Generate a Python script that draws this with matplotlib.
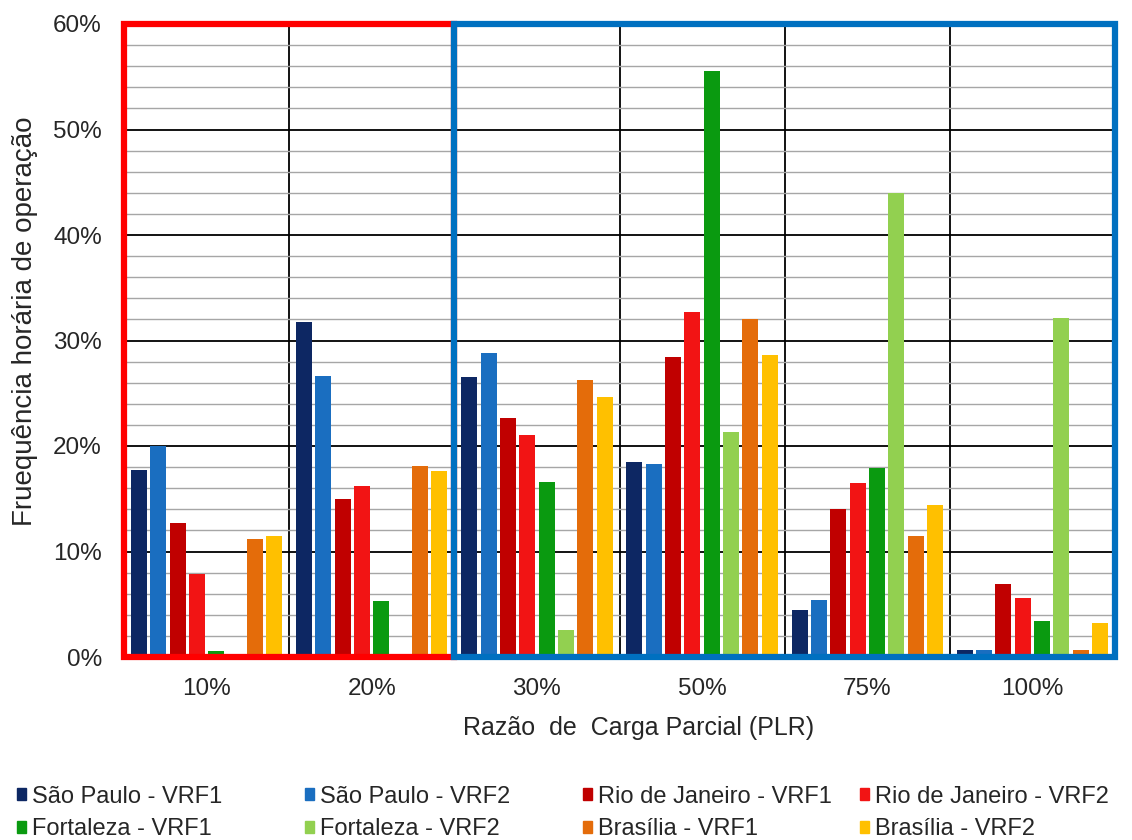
import matplotlib
matplotlib.use("Agg")
import matplotlib.pyplot as plt
import numpy as np
from matplotlib.patches import Patch, Rectangle

plt.rcParams["font.family"] = ["Liberation Sans", "DejaVu Sans"]

groups = ["10%", "20%", "30%", "50%", "75%", "100%"]
series = ["São Paulo - VRF1", "São Paulo - VRF2", "Rio de Janeiro - VRF1", "Rio de Janeiro - VRF2",
          "Fortaleza - VRF1", "Fortaleza - VRF2", "Brasília - VRF1", "Brasília - VRF2"]
sp_vrf1 = [17.7, 31.8, 26.5, 18.5, 4.5, 0.7]
sp_vrf2 = [20.0, 26.6, 28.8, 18.3, 5.4, 0.7]
rj_vrf1 = [12.7, 15.0, 22.7, 28.4, 14.0, 6.9]
rj_vrf2 = [7.9, 16.2, 21.0, 32.7, 16.5, 5.6]
fo_vrf1 = [0.6, 5.3, 16.6, 55.5, 17.9, 3.4]
fo_vrf2 = [0.0, 0.0, 2.6, 21.3, 44.0, 32.1]
br_vrf1 = [11.2, 18.1, 26.3, 32.0, 11.5, 0.7]
br_vrf2 = [11.5, 17.6, 24.6, 28.6, 14.4, 3.2]
values = [sp_vrf1, sp_vrf2, rj_vrf1, rj_vrf2, fo_vrf1, fo_vrf2, br_vrf1, br_vrf2]
colors = ["#0d2763", "#1a6ec0", "#c00000", "#f21414", "#0a9a10", "#92d050", "#e46c0a", "#ffc000"]

fig = plt.figure(figsize=(11.32, 8.4), dpi=100)
ax = fig.add_axes([124 / 1132, 1 - 657 / 840, 991 / 1132, 633 / 840])

x = np.arange(len(groups))
slot = 0.117
for i, (vals, c) in enumerate(zip(values, colors)):
    ax.bar(x + (i - 3.5) * slot, vals, width=0.097, color=c, zorder=3)

ax.set_xlim(-0.5, len(groups) - 0.5)
ax.set_ylim(0, 60)
ax.set_yticks(np.arange(0, 61, 10))
ax.set_yticklabels([f"{v}%" for v in range(0, 61, 10)])
ax.set_yticks(np.arange(0, 61, 2), minor=True)
ax.set_xticks(x)
ax.set_xticklabels(groups)
ax.set_xticks(x[:-1] + 0.5, minor=True)
ax.tick_params(axis="both", which="both", length=0, labelsize=17.5, labelcolor="#262626")
ax.tick_params(axis="y", pad=16)
ax.tick_params(axis="x", pad=15)
ax.grid(axis="y", which="minor", color="#a6a6a6", lw=1.0, zorder=0)
ax.grid(axis="y", which="major", color="black", lw=1.3, zorder=1)
ax.grid(axis="x", which="minor", color="black", lw=1.3, zorder=1)
for s in ax.spines.values():
    s.set_visible(False)

ax.set_xlabel("Razão  de  Carga Parcial (PLR)", fontsize=18, color="#262626")
ax.xaxis.set_label_coords(0.519, -0.093)
ax.set_ylabel("Fruequência horária de operação", fontsize=20, color="#262626")
ax.yaxis.set_label_coords(-0.087, 0.53)

# destaque das faixas
ax.add_patch(Rectangle((-0.5, 0), 2, 60, fill=False, ec="#ff0000", lw=4.5, clip_on=False, zorder=5))
ax.add_patch(Rectangle((1.5, 0), 4, 60, fill=False, ec="#0070c0", lw=4.5, clip_on=False, zorder=6))

handles = [Patch(color=c, label=s) for s, c in zip(series, colors)]
col_x = [0, 288, 566, 843]
for k, cx in enumerate(col_x):
    fig.legend(handles=[handles[k], handles[k + 4]], loc="upper left",
               bbox_to_anchor=(cx / 1132, 1 - 769 / 840), frameon=False,
               fontsize=17, handlelength=0.4, handleheight=0.4, handletextpad=0.25,
               labelspacing=0.45, borderpad=0.2, labelcolor="#262626")

fig.savefig("out.png", dpi=100)
